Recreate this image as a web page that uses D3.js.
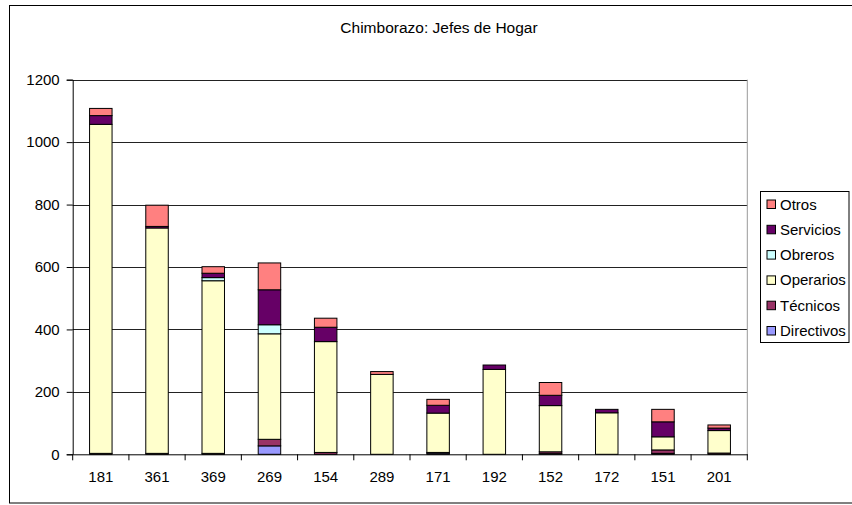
<!DOCTYPE html>
<html><head><meta charset="utf-8">
<script src="https://cdn.jsdelivr.net/npm/d3@7"></script>
<style>body{margin:0;background:#fff;} text{font-family:"Liberation Sans",Arial,sans-serif;}</style>
</head><body><svg id="c" width="852" height="505"></svg>
<script>
const categories = ["181","361","369","269","154","289","171","192","152","172","151","201"];
const seriesNames = ["Directivos","Técnicos","Operarios","Obreros","Servicios","Otros"];
const directivos = [0,0,0,27,0,0,4,0,2,0,3,0];
const tecnicos   = [3,3,3,21,6,0,2,0,6,0,11,4];
const operarios  = [1054,722,553,338,355,256,126,272,148,133,42,72];
const obreros    = [0,0,10,29,0,0,0,0,0,0,0,0];
const servicios  = [28,5,14,112,46,0,25,14,33,11,48,8];
const otros      = [23,68,21,86,29,9,19,0,41,0,40,10];
const yTicks = [0,200,400,600,800,1000,1200];
const colors = ["#9999FF","#993366","#FFFFCC","#CCFFFF","#660066","#FF8080"];

const seriesValues = [directivos,tecnicos,operarios,obreros,servicios,otros];
const rows = categories.map((c,i)=>{const r={cat:c}; seriesNames.forEach((s,j)=>r[s]=seriesValues[j][i]); return r;});
const stacked = d3.stack().keys(seriesNames)(rows);

const svg = d3.select("#c");
const L=72.7, R=747.3, T=79.7, B=454.3;
const x = d3.scaleBand().domain(categories).range([L,R]).paddingInner(0).paddingOuter(0);
const y = d3.scaleLinear().domain([0,1200]).range([B,T]);

// outer border
svg.append("rect").attr("x",9.5).attr("y",5.5).attr("width",860).attr("height",497.5)
  .attr("fill","none").attr("stroke","#000").attr("stroke-width",1);

svg.append("text").attr("x",439).attr("y",33).attr("text-anchor","middle")
  .attr("font-size","15.5px").attr("fill","#000").text("Chimborazo: Jefes de Hogar");

// gridlines
svg.append("g").selectAll("line").data(yTicks.filter(t=>t>0)).join("line")
  .attr("x1",L).attr("x2",R).attr("y1",d=>Math.round(y(d))+0.5).attr("y2",d=>Math.round(y(d))+0.5)
  .attr("stroke","#222").attr("stroke-width",1);
// right border of plot
svg.append("line").attr("x1",R).attr("x2",R).attr("y1",T).attr("y2",B).attr("stroke","#999");

// bars
const bw = x.bandwidth()*0.4;
svg.append("g").selectAll("g").data(stacked).join("g")
  .attr("fill",(d,i)=>colors[i])
  .selectAll("rect").data(d=>d.filter(s=>s[1]-s[0]>0)).join("rect")
  .attr("x",d=>x(d.data.cat)+x.bandwidth()/2-bw/2)
  .attr("y",d=>y(d[1]))
  .attr("width",bw)
  .attr("height",d=>y(d[0])-y(d[1]))
  .attr("stroke","#000").attr("stroke-width",1);

// y axis
const ya = svg.append("g").attr("transform",`translate(${L},0)`)
  .call(d3.axisLeft(y).tickValues(yTicks).tickSize(6).tickPadding(7).tickFormat(d3.format("d")));
ya.select(".domain").attr("stroke","#000");
ya.selectAll("text").attr("font-size","15px").attr("fill","#000").attr("font-family","Liberation Sans, Arial, sans-serif");

// x axis
const xa = svg.append("g").attr("transform",`translate(0,${B})`)
  .call(d3.axisBottom(x).tickSize(0).tickPadding(17));
xa.select(".domain").attr("stroke","#000");
xa.selectAll("text").attr("font-size","15px").attr("fill","#000").attr("font-family","Liberation Sans, Arial, sans-serif");
// category boundary ticks
svg.append("g").selectAll("line").data(d3.range(categories.length+1)).join("line")
  .attr("x1",i=>L+i*x.step()).attr("x2",i=>L+i*x.step()).attr("y1",B).attr("y2",B+6)
  .attr("stroke","#000");

// legend
const lg = svg.append("g");
lg.append("rect").attr("x",760.5).attr("y",191.5).attr("width",88.5).attr("height",151)
  .attr("fill","#fff").attr("stroke","#000");
const legendOrder = seriesNames.map((s,i)=>({s,c:colors[i]})).reverse();
const li = lg.selectAll("g").data(legendOrder).join("g")
  .attr("transform",(d,i)=>`translate(0,${204+i*25.3})`);
li.append("rect").attr("x",767).attr("y",-4).attr("width",8.5).attr("height",8.5)
  .attr("fill",d=>d.c).attr("stroke","#000");
li.append("text").attr("x",780).attr("y",5.5).attr("font-size","15px").attr("fill","#000").text(d=>d.s);
</script></body></html>
